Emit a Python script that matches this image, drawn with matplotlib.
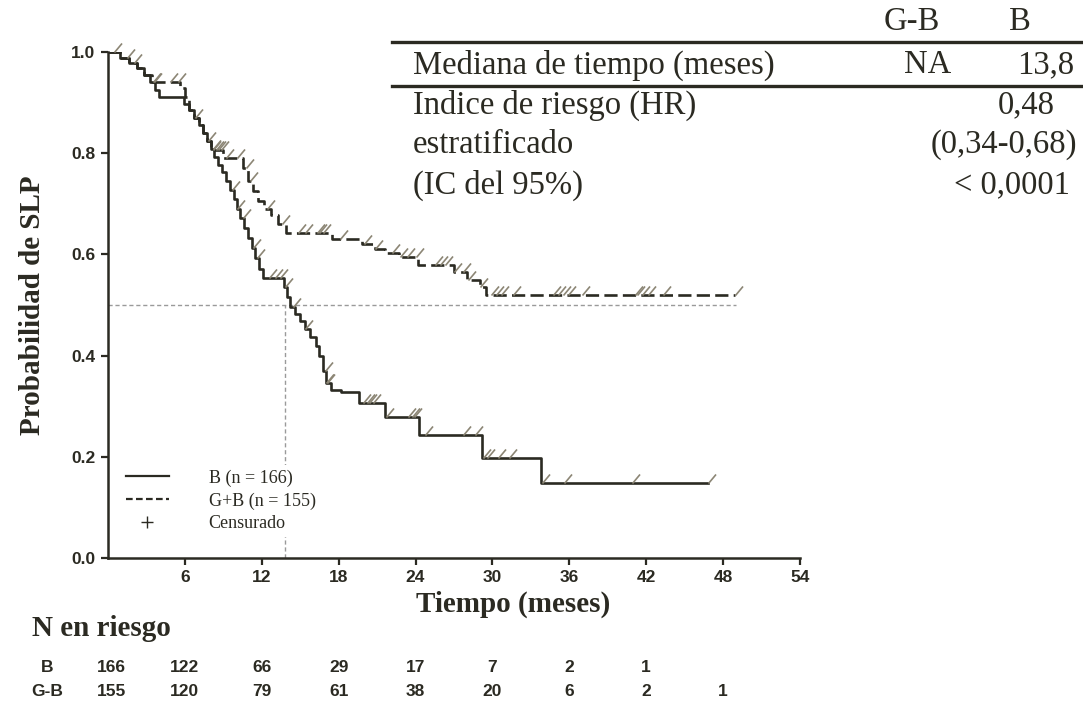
import numpy as np
import matplotlib
matplotlib.use("Agg")
import matplotlib.pyplot as plt
from matplotlib.lines import Line2D
from matplotlib.path import Path
import matplotlib.transforms as mtransforms

# Kaplan-Meier steps (months, survival)
t_b = [0, 0.9, 1.6, 2.3, 2.8, 3.3, 3.7, 4.0, 5.9, 6.3, 6.7, 7.1, 7.4, 7.7, 8.0,
       8.3, 8.6, 8.9, 9.2, 9.5, 9.8, 10.1, 10.3, 10.6, 10.9, 11.2, 11.5, 11.8,
       12.1, 13.7, 14.0, 14.2, 14.6, 15.0, 15.4, 15.8, 16.2, 16.5, 16.8, 17.0,
       17.4, 18.2, 19.6, 21.6, 24.3, 29.2, 33.8]
s_b = [1.0, 0.988, 0.978, 0.968, 0.955, 0.94, 0.925, 0.912, 0.898, 0.885, 0.87,
       0.855, 0.84, 0.825, 0.808, 0.792, 0.777, 0.762, 0.746, 0.728, 0.71, 0.69,
       0.672, 0.652, 0.632, 0.612, 0.592, 0.572, 0.553, 0.535, 0.515, 0.497,
       0.482, 0.468, 0.453, 0.437, 0.418, 0.40, 0.37, 0.345, 0.333, 0.328,
       0.306, 0.279, 0.243, 0.198, 0.148]
end_b = 46.8

t_gb = [0, 0.9, 1.6, 2.3, 2.8, 3.4, 5.6, 6.0, 6.3, 6.7, 7.1, 7.4, 7.7, 8.0,
        9.0, 10.5, 10.9, 11.3, 11.7, 12.2, 12.7, 13.3, 13.9, 17.5, 19.8, 20.8,
        21.6, 22.7, 24.2, 27.0, 28.0, 29.0, 29.5]
s_gb = [1.0, 0.988, 0.978, 0.968, 0.955, 0.94, 0.928, 0.912, 0.885, 0.87,
        0.855, 0.84, 0.825, 0.806, 0.79, 0.77, 0.745, 0.725, 0.705, 0.69,
        0.678, 0.66, 0.642, 0.63, 0.62, 0.61, 0.603, 0.595, 0.58, 0.565,
        0.55, 0.535, 0.52]
end_gb = 48.9

cens_b = [1.5, 3.6, 7.8, 8.2, 9.7, 10.1, 10.5, 11.3, 11.6, 12.6, 13.0, 13.4,
          13.8, 14.4, 15.4, 16.9, 17.0, 17.1, 19.9, 20.2, 20.4, 20.7, 21.7,
          23.4, 23.7, 23.9, 24.7, 27.7, 28.6, 29.3, 29.6, 30.4, 31.3, 33.9,
          35.6, 40.9, 46.8]
cens_gb = [0.5, 2.0, 3.5, 4.8, 5.5, 6.8, 8.2, 8.4, 8.6, 8.8, 9.2, 10.1, 10.8,
           11.1, 12.4, 13.6, 14.8, 15.4, 16.3, 16.5, 16.8, 18.1, 20.0, 20.8,
           22.2, 22.8, 23.3, 24.0, 25.5, 25.9, 26.3, 27.0, 27.7, 28.1, 29.0,
           29.9, 30.3, 30.7, 31.6, 34.7, 35.1, 35.5, 35.9, 37.0, 41.1, 41.3,
           41.7, 42.1, 43.3, 48.9]

median_b = 13.8

risk_times = [0, 6, 12, 18, 24, 30, 36, 42, 48]
risk_b = [166, 122, 66, 29, 17, 7, 2, 1]
risk_gb = [155, 120, 79, 61, 38, 20, 6, 2, 1]

dark = "#2b2a22"
grey = "#8c8675"

fig = plt.figure(figsize=(10.83, 7.06), dpi=100)
ax = fig.add_axes([108 / 1083, 148 / 706, 692 / 1083, 506 / 706])


def step_at(t, s, x):
    t = np.asarray(t)
    s = np.asarray(s)
    return s[np.searchsorted(t, x, side="right") - 1]


# reference lines for the median
ax.plot([0, 49], [0.5, 0.5], color="#9a9a9a", lw=1.0, ls=(0, (3, 2)), zorder=1)
ax.plot([median_b, median_b], [0, 0.5], color="#9a9a9a", lw=1.0, ls=(0, (3, 2)), zorder=1)

ax.step(list(t_b) + [end_b], list(s_b) + [s_b[-1]], where="post",
        color=dark, lw=1.9, zorder=3)
ax.step(list(t_gb) + [end_gb], list(s_gb) + [s_gb[-1]], where="post",
        color=dark, lw=1.9, ls=(0, (5, 2)), zorder=3)

tick_mark = Path([(0, 0), (1, 1.2)], [Path.MOVETO, Path.LINETO])
ax.plot(cens_b, step_at(t_b, s_b, cens_b), ls="none", marker=tick_mark,
        ms=13, mew=1.2, color=grey, mfc="none", clip_on=False, zorder=4)
ax.plot(cens_gb, step_at(t_gb, s_gb, cens_gb), ls="none", marker=tick_mark,
        ms=13, mew=1.2, color=grey, mfc="none", clip_on=False, zorder=4)

ax.set_xlim(0, 54)
ax.set_ylim(0, 1.0)
ax.set_xticks([6, 12, 18, 24, 30, 36, 42, 48, 54])
ax.set_yticks([0.0, 0.2, 0.4, 0.6, 0.8, 1.0])
ax.set_yticklabels(["0.0", "0.2", "0.4", "0.6", "0.8", "1.0"])
for sp in ["top", "right"]:
    ax.spines[sp].set_visible(False)
for sp in ["left", "bottom"]:
    ax.spines[sp].set_linewidth(1.8)
    ax.spines[sp].set_color(dark)
ax.tick_params(direction="out", length=5, width=1.6, color=dark, pad=4)
for lab in ax.get_xticklabels() + ax.get_yticklabels():
    lab.set_fontfamily("Liberation Sans")
    lab.set_fontweight("bold")
    lab.set_fontsize(12.5)
    lab.set_color(dark)

ax.set_ylabel("Probabilidad de SLP", family="Liberation Serif", weight="bold",
              fontsize=21, color=dark, labelpad=18)
fig.text(513 / 1083, 1 - 604 / 706, "Tiempo (meses)", family="Liberation Serif",
         weight="bold", fontsize=21, color=dark, ha="center", va="center")

handles = [Line2D([], [], color=dark, lw=1.6),
           Line2D([], [], color=dark, lw=1.6, ls=(0, (3, 1.5))),
           Line2D([], [], color=dark, ls="none", marker="+", ms=8, mew=1.0)]
leg = ax.legend(handles, ["B (n = 166)", "G+B (n = 155)", "Censurado"],
                loc="upper left", bbox_to_anchor=(112 / 1083, 1 - 456 / 706),
                bbox_transform=fig.transFigure, frameon=True, framealpha=1,
                edgecolor="none", facecolor="white", handlelength=2.4,
                handletextpad=2.2, labelspacing=0.3, borderpad=0.25,
                prop={"family": "Liberation Serif", "size": 13})
for txt in leg.get_texts():
    txt.set_color(dark)

# risk table
fig.text(32 / 1083, 1 - 628 / 706, "N en riesgo", family="Liberation Serif",
         weight="bold", fontsize=21, color=dark, va="center", ha="left")
trans = mtransforms.blended_transform_factory(ax.transData, fig.transFigure)
rows = [("B", risk_b, 667), ("G-B", risk_gb, 692)]
for name, vals, ypx in rows:
    fig.text(47 / 1083, 1 - ypx / 706, name, family="Liberation Sans",
             weight="bold", fontsize=12.5, color=dark, ha="center", va="center")
    for tm, v in zip(risk_times, vals):
        xx = tm + 0.3 if tm == 0 else tm
        ax.text(xx, 1 - ypx / 706, str(v), transform=trans,
                family="Liberation Sans",
                weight="bold", fontsize=12.5, color=dark, ha="center", va="center")

# summary table (top right)
serif = {"family": "Liberation Serif", "fontsize": 23.5, "color": dark}
fig.add_artist(Line2D([392 / 1083, 1.0], [1 - 42 / 706, 1 - 42 / 706],
                      color=dark, lw=2.4, transform=fig.transFigure))
fig.add_artist(Line2D([392 / 1083, 1.0], [1 - 86 / 706, 1 - 86 / 706],
                      color=dark, lw=2.4, transform=fig.transFigure))


def ftext(xp, yp, s, ha="left"):
    fig.text(xp / 1083, 1 - yp / 706, s, ha=ha, va="center", **serif)


ftext(912, 22, "G-B", ha="center")
ftext(1020, 22, "B", ha="center")
ftext(413, 65, "Mediana de tiempo (meses)")
ftext(928, 65, "NA", ha="center")
ftext(1074, 65, "13,8", ha="right")
ftext(1026, 105, "0,48", ha="center")
ftext(413, 105, "Indice de riesgo (HR)")
ftext(413, 145, "estratificado")
ftext(1077, 145, "(0,34-0,68)", ha="right")
ftext(413, 185, "(IC del 95%)")
ftext(1012, 185, "< 0,0001", ha="center")

fig.savefig("out.png", dpi=100, facecolor="white")
